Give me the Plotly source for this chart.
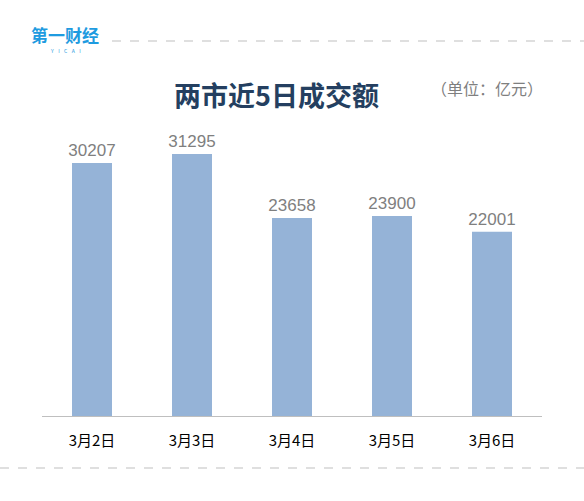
import plotly.graph_objects as go

categories = ["3月2日", "3月3日", "3月4日", "3月5日", "3月6日"]
values = [30207, 31295, 23658, 23900, 22001]
value_labels = [str(v) for v in values]

W, H = 584, 501
L, R, T, B = 42, 42, 123, 85
pw, ph = W - L - R, H - T - B

def px_x(x):
    return (x - L) / pw

def px_y(y):
    return (H - B - y) / ph

font = "Noto Sans CJK SC, Microsoft YaHei, sans-serif"
numfont = "Liberation Sans, Arial, sans-serif"

fig = go.Figure()
fig.add_trace(go.Bar(
    x=categories, y=values,
    marker=dict(color="#95B3D7", line=dict(width=0)),
    text=value_labels, textposition="outside",
    textfont=dict(size=17, color="#7F7F7F", family=numfont),
    constraintext="none",
    cliponaxis=False,
))

fig.update_layout(
    width=W, height=H,
    margin=dict(l=L, r=R, t=T, b=B),
    paper_bgcolor="white", plot_bgcolor="white",
    bargap=0.6,
    showlegend=False,
    font=dict(family=font),
    xaxis=dict(showgrid=False, showline=True, linecolor="#BFBFBF", linewidth=1,
               ticks="", tickfont=dict(size=15, color="#000000", family=font),
               ticklabelstandoff=11),
    yaxis=dict(range=[0, 35000], visible=False, showgrid=False),
)

# dashed separators
fig.add_shape(type="line", xref="paper", yref="paper",
              x0=px_x(112), x1=px_x(584), y0=px_y(41), y1=px_y(41),
              line=dict(color="#BFBFBF", width=1, dash="dash"))
fig.add_shape(type="line", xref="paper", yref="paper",
              x0=px_x(0), x1=px_x(584), y0=px_y(468), y1=px_y(468),
              line=dict(color="#BFBFBF", width=1, dash="dash"))

# title
fig.add_annotation(xref="paper", yref="paper", x=px_x(276), y=px_y(95),
                   text="<b>两市近5日成交额</b>", showarrow=False,
                   font=dict(size=27, color="#243F60", family=font),
                   xanchor="center", yanchor="middle")
fig.add_annotation(xref="paper", yref="paper", x=px_x(487), y=px_y(88),
                   text="（单位：亿元）", showarrow=False,
                   font=dict(size=16, color="#7F7F7F", family=font),
                   xanchor="center", yanchor="middle")

# logo
fig.add_annotation(xref="paper", yref="paper", x=px_x(65), y=px_y(35),
                   text="<b>第一财经</b>", showarrow=False,
                   font=dict(size=17, color="#1E9BE0", family=font),
                   xanchor="center", yanchor="middle")
fig.add_annotation(xref="paper", yref="paper", x=px_x(65), y=px_y(50),
                   text="Y    I    C    A    I", showarrow=False,
                   font=dict(size=5, color="#1E9BE0", family=font),
                   xanchor="center", yanchor="middle")

fig.write_html("out.html")
